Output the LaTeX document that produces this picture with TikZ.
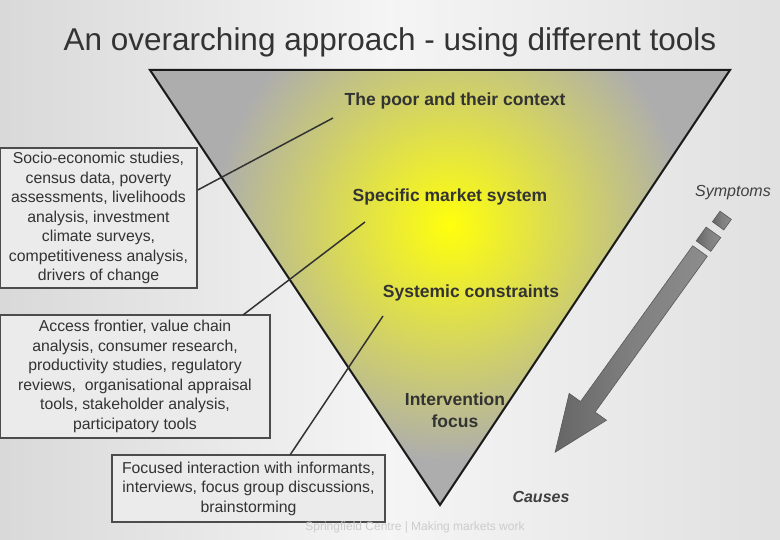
\documentclass[tikz,border=0pt]{standalone}
\usepackage{fontspec}
\setmainfont{Liberation Sans}
\begin{document}
\begin{tikzpicture}[x=1pt,y=-1pt,
  box/.style={draw=black!70,line width=1.5pt,fill=black!8,align=center,font=\fontsize{15.8}{19.5}\selectfont,text=black!80,inner sep=2pt},
  lbl/.style={font=\bfseries\fontsize{17.5}{22}\selectfont,text=black!80,align=center},
  conn/.style={draw=black!80,line width=1.5pt},
  arr/.style={draw=black!65,line width=0.6pt,left color=black!60,right color=black!45,middle color=black!50}]
\useasboundingbox (0,0) rectangle (780,540);
\shade[left color=black!15,right color=black!12,middle color=black!4] (0,0) rectangle (780,540);
\node (title) at (390,42) {\fontsize{31.5}{36}\selectfont\color{black!80}An overarching approach - using different tools};
\begin{scope}
\clip (150,70) -- (730,70) -- (440,505) -- cycle;
\fill[black!32] (150,70) rectangle (730,505);
\shade[inner color=yellow!95!white,outer color=black!32] (450,225) circle (235);
\end{scope}
\draw[line width=2pt,black!90] (150,70) -- (730,70) -- (440,505) -- cycle;
\node[lbl] (poor) at (455,101) {The poor and their context};
\node[lbl] (market) at (450,197) {Specific market system};
\node[lbl] (sys) at (471,293) {Systemic constraints};
\node[lbl] (int) at (455,410) {Intervention\\focus};
\node[font=\bfseries\itshape\fontsize{16}{18}\selectfont,text=black!75] (causes) at (541,497) {Causes};
\node[font=\itshape\fontsize{16}{18}\selectfont,text=black!75] (symp) at (733,193) {Symptoms};
\node[box,minimum width=197pt,minimum height=140pt] (b1) at (98.5,218) {Socio-economic studies,\\census data, poverty\\assessments, livelihoods\\analysis, investment\\climate surveys,\\competitiveness analysis,\\drivers of change};
\node[box,minimum width=270pt,minimum height=123pt] (b2) at (135,376.5) {Access frontier, value chain\\analysis, consumer research,\\productivity studies, regulatory\\reviews,\ \ organisational appraisal\\tools, stakeholder analysis,\\participatory tools};
\node[box,minimum width=273pt,minimum height=67pt] (b3) at (248.5,488.5) {Focused interaction with informants,\\interviews, focus group discussions,\\brainstorming};
\coordinate (c1) at (333,118);
\coordinate (c2) at (365,222);
\coordinate (c3) at (383,316);
\draw[conn] (b1.east |- 0,190) -- (c1);
\draw[conn] (243,315) -- (c2);
\draw[conn] (290,455) -- (c3);
\begin{scope}[shift={(700,251)},rotate=234.25]
\path[arr] (0,-9) -- (192,-9) -- (192,-23) -- (248,0) -- (192,23) -- (192,9) -- (0,9) -- cycle;
\path[arr] (-23,-9) rectangle (-6,9);
\path[arr] (-44,-7) rectangle (-31,7);
\end{scope}
\node[font=\fontsize{12}{13}\selectfont,text=white!80!black] (foot) at (415,527) {Springfield Centre | Making markets work};
\end{tikzpicture}
\end{document}
